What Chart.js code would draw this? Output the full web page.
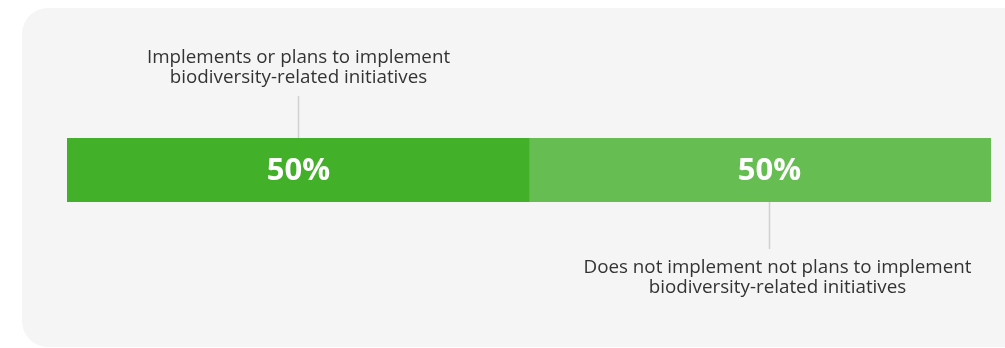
<!DOCTYPE html>
<html>
<head>
<meta charset="utf-8">
<script src="https://cdn.jsdelivr.net/npm/chart.js@4/dist/chart.umd.min.js"></script>
<style>
  html, body { margin: 0; padding: 0; background: #ffffff; }
  #painel {
    position: absolute; left: 22px; top: 8px; width: 1040px; height: 339px;
    background: #f5f5f5; border-radius: 26px;
  }
  #wrap { position: absolute; left: 0; top: 0; width: 1005px; height: 348px; }
</style>
</head>
<body>
<div id="painel"></div>
<div id="wrap"><canvas id="graficoBarra" width="1005" height="348"></canvas></div>
<script>
const categorias = ['Biodiversidade'];
const valoresSim = [50];
const valoresNao = [50];
const rotulos = [
    ['Implements or plans to implement', 'biodiversity-related initiatives'],
    ['Does not implement not plans to implement', 'biodiversity-related initiatives']
];
// onde cada rótulo se ancora no eixo de valores (0-100)
const ancoras = [25, 76];
const lados = ['acima', 'abaixo'];

const corTexto = '#333333';
const corLinha = '#d0d0d0';

const pluginRotulos = {
    id: 'rotulos',
    afterDatasetsDraw(chart) {
        const ctx = chart.ctx;
        const xEscala = chart.scales.x;
        const area = chart.chartArea;
        ctx.save();
        ancoras.forEach((v, i) => {
            const x = Math.round(xEscala.getPixelForValue(v)) + 0.5;
            const valor = i === 0 ? valoresSim[0] : valoresNao[0];

            // valor dentro da barra
            ctx.fillStyle = '#ffffff';
            ctx.font = 'bold 31px "Open Sans"';
            ctx.textAlign = 'center';
            ctx.textBaseline = 'middle';
            ctx.fillText(valor + '%', x, (area.top + area.bottom) / 2 + 1);

            // linha guia e texto
            ctx.strokeStyle = corLinha;
            ctx.lineWidth = 1.5;
            ctx.beginPath();
            ctx.font = '18.8px "Open Sans"';
            ctx.fillStyle = corTexto;
            ctx.textBaseline = 'alphabetic';
            if (lados[i] === 'acima') {
                ctx.moveTo(x, area.top - 42);
                ctx.lineTo(x, area.top);
                ctx.stroke();
                ctx.fillText(rotulos[i][0], x, 63);
                ctx.fillText(rotulos[i][1], x, 83);
            } else {
                ctx.moveTo(x, area.bottom);
                ctx.lineTo(x, area.bottom + 47);
                ctx.stroke();
                ctx.fillText(rotulos[i][0], x + 8, 273);
                ctx.fillText(rotulos[i][1], x + 8, 293);
            }
        });
        ctx.restore();
    }
};

function desenhar() {
    new Chart(document.getElementById('graficoBarra'), {
        type: 'bar',
        data: {
            labels: categorias,
            datasets: [
                { label: 'Sim', data: valoresSim, backgroundColor: '#43b02a', borderWidth: 0 },
                { label: 'Não', data: valoresNao, backgroundColor: '#66bd51', borderWidth: 0 }
            ]
        },
        options: {
            indexAxis: 'y',
            responsive: false,
            animation: false,
            events: [],
            datasets: { bar: { barPercentage: 1, categoryPercentage: 1 } },
            layout: { padding: { left: 67, right: 14, top: 138, bottom: 146 } },
            scales: {
                x: { stacked: true, min: 0, max: 100, display: false },
                y: { stacked: true, display: false }
            },
            plugins: {
                legend: { display: false },
                tooltip: { enabled: false }
            }
        },
        plugins: [pluginRotulos]
    });
}

Promise.all([
    document.fonts.load('18.8px "Open Sans"'),
    document.fonts.load('bold 31px "Open Sans"')
]).then(desenhar, desenhar);
</script>
</body>
</html>
